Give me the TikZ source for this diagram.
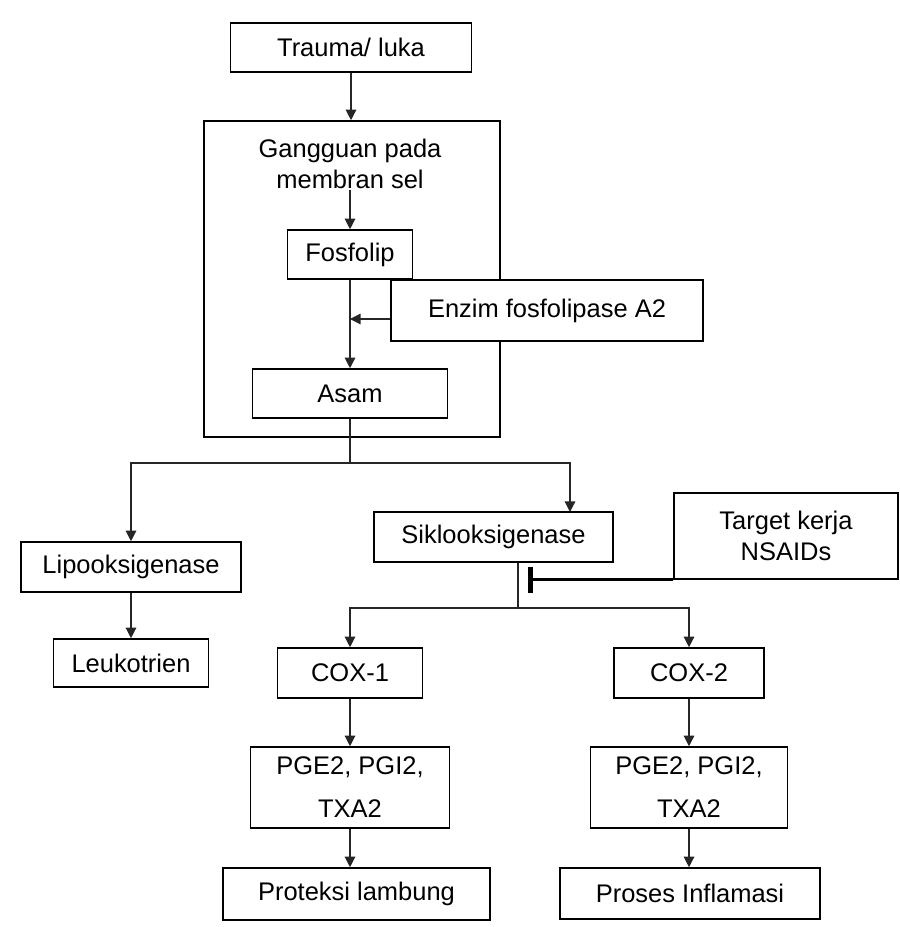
\documentclass[tikz,border=0pt]{standalone}
\usepackage{fontspec}
\setmainfont{Liberation Sans}
\usetikzlibrary{arrows.meta}

\begin{document}
\begin{tikzpicture}[
  box/.style={draw,line width=0.9pt,fill=white,align=center,inner sep=2pt,font=\fontsize{14.5}{17.5}\selectfont},
  arr/.style={-{Triangle[length=6pt,width=6pt]},line width=0.7pt,black!85},
  link/.style={line width=0.7pt,black!85},
  inhib/.style={-{Bar[width=15pt,line width=2.8pt]},line width=1.8pt}
]
\useasboundingbox (0,0) rectangle (17.98,-18.54);
\node[box,minimum width=4.82cm,minimum height=0.98cm] (trauma) at (7.02,-0.95) {Trauma/ luka};
\node[box,minimum width=5.92cm,minimum height=6.32cm] (membran) at (7.04,-5.58) {};
\node[align=center,inner sep=0pt,font=\fontsize{14.5}{18}\selectfont] (gangguan) at (7.0,-3.28) {Gangguan pada\\membran sel};
\node[box,minimum width=2.5cm,minimum height=0.98cm] (fosfolip) at (7.0,-5.09) {Fosfolip};
\node[box,minimum width=6.24cm,minimum height=1.22cm] (enzim) at (10.94,-6.21) {Enzim fosfolipase A2};
\node[box,minimum width=3.9cm,minimum height=0.98cm] (asam) at (7.0,-7.87) {Asam};
\node[box,minimum width=4.4cm,minimum height=1.0cm] (lipo) at (2.62,-11.34) {Lipooksigenase};
\node[box,minimum width=3.1cm,minimum height=0.96cm] (leuko) at (2.62,-13.26) {Leukotrien};
\node[box,minimum width=4.78cm,minimum height=1.0cm] (siklo) at (9.87,-10.74) {Siklooksigenase};
\node[box,minimum width=4.48cm,minimum height=1.72cm] (target) at (15.72,-10.72) {Target kerja\\NSAIDs};
\node[box,minimum width=2.9cm,minimum height=1.0cm] (cox1) at (7.0,-13.46) {COX-1};
\node[box,minimum width=3.0cm,minimum height=1.0cm] (cox2) at (13.78,-13.46) {COX-2};
\node[box,minimum width=3.98cm,minimum height=1.62cm] (pge1) at (7.0,-15.75) {PGE2, PGI2,\\[7pt]TXA2};
\node[box,minimum width=3.94cm,minimum height=1.62cm] (pge2) at (13.78,-15.75) {PGE2, PGI2,\\[7pt]TXA2};
\node[box,minimum width=5.34cm,minimum height=1.04cm] (protek) at (7.13,-17.88) {Proteksi lambung};
\node[box,minimum width=5.2cm,minimum height=1.02cm] (proses) at (13.8,-17.87) {Proses Inflamasi};

\coordinate (join) at (7.0,-6.38);
\coordinate (fork) at (7.0,-9.26);
\coordinate (sikin) at (11.4,-10.24);
\coordinate (fork2) at (10.36,-12.16);
\coordinate (block) at (10.56,-11.58);

\draw[arr] (trauma.south) -- (trauma.south |- membran.north);
\draw[arr] (gangguan.south) -- (fosfolip.north);
\draw[arr] (fosfolip) -- (asam);
\draw[arr] (enzim.west |- join) -- (join);
\draw[link] (asam.south) -- (fork);
\draw[arr] (fork) -| (lipo.north);
\draw[arr] (fork) -| (sikin);
\draw[arr] (lipo) -- (leuko);
\draw[link] (siklo.south -| fork2) -- (fork2);
\draw[arr] (fork2) -| (cox1.north);
\draw[arr] (fork2) -| (cox2.north);
\draw[inhib] (target.south west) -- (target.south west -| block);
\draw[arr] (cox1) -- (pge1);
\draw[arr] (cox2) -- (pge2);
\draw[arr] (pge1.south) -- (pge1.south |- protek.north);
\draw[arr] (pge2.south) -- (pge2.south |- proses.north);
\end{tikzpicture}
\end{document}
